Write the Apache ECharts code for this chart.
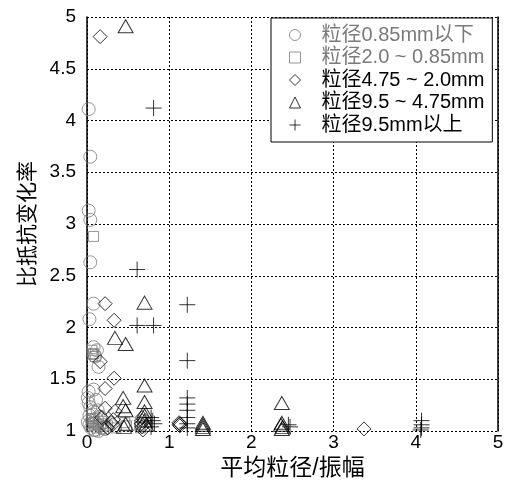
<!DOCTYPE html>
<html><head><meta charset="utf-8">
<script src="https://cdn.jsdelivr.net/npm/echarts@6/dist/echarts.min.js"></script>
<style>html,body{margin:0;padding:0;background:#fff}#c{width:508px;height:481px}</style>
</head><body><div id="c"></div>
<script>
const seriesNames = ['粒径0.85mm以下','粒径2.0 ~ 0.85mm','粒径4.75 ~ 2.0mm','粒径9.5 ~ 4.75mm','粒径9.5mm以上'];
const xTicks = [0,1,2,3,4,5];
const yTicks = [1,1.5,2,2.5,3,3.5,4,4.5,5];

const circles = [[0.02,4.11],[0.04,3.65],[0.02,3.13],[0.04,3.04],[0.04,2.63],[0.08,2.23],[0.03,2.08],
 [0.08,1.81],[0.12,1.78],[0.14,1.62],[0.10,1.72],[0.02,1.38],[0.08,1.40],[0.02,1.27],[0.04,1.23],
 [0.03,1.15],[0.07,1.16],[0.13,1.20],[0.06,1.10],[0.10,1.08],[0.15,1.05],[0.18,1.03],[0.05,1.03],
 [0.09,1.01],[0.12,1.12],[0.20,1.08],[0.03,1.06],[0.14,1.00],[0.01,1.32],[0.11,1.30],[0.16,1.14],
 [0.08,1.19],[0.22,1.02],[0.01,1.09]];
const squares = [[0.08,2.88],[0.06,1.78],[0.08,1.75],[0.10,1.72],[0.07,1.74],[0.07,1.12],[0.08,1.08],
 [0.10,1.05],[0.12,1.03],[0.14,1.06],[0.20,1.02],[0.25,1.05],[0.46,1.08],[0.48,1.05],[0.64,1.06],
 [0.65,1.03],[0.35,1.03],[0.09,1.00],[0.18,1.07]];
const diamonds = [[0.16,4.81],[0.22,2.23],[0.33,2.07],[0.16,1.67],[0.33,1.51],[0.22,1.41],[0.22,1.22],
 [0.34,1.19],[0.18,1.13],[0.32,1.11],[0.30,1.08],[0.31,1.06],[0.25,1.03],[0.67,1.13],[0.67,1.10],
 [0.66,1.07],[0.67,1.04],[0.68,1.01],[1.12,1.08],[1.13,1.07],[1.13,1.05],[1.12,1.06],[3.37,1.02]];
const triangles = [[0.47,4.91],[0.70,2.24],[0.34,1.90],[0.47,1.84],[0.70,1.44],[0.44,1.32],[0.70,1.28],
 [0.44,1.24],[0.47,1.20],[0.70,1.19],[0.70,1.15],[0.47,1.07],[0.45,1.04],[0.70,1.10],[0.72,1.06],
 [1.41,1.08],[1.41,1.06],[1.41,1.04],[1.41,1.02],[2.37,1.27],[2.37,1.08],[2.36,1.06],[2.38,1.04],[2.37,1.02]];
const pluses = [[0.81,4.12],[0.61,2.56],[1.22,2.22],[0.61,2.02],[0.81,2.02],[1.22,1.68],[1.22,1.32],
 [1.22,1.26],[1.22,1.20],[1.22,1.13],[1.22,1.07],[1.22,1.03],[0.78,1.13],[0.80,1.10],[0.82,1.07],
 [0.78,1.04],[2.45,1.06],[2.47,1.04],[4.07,1.10],[4.07,1.06],[4.07,1.03],[4.06,1.01]];

const GRAY = '#7a7a7a';
const FONT = '"Liberation Sans", "Noto Sans CJK SC", sans-serif';
const PLUS = 'path://M5,0L5,10M0,5L10,5';

function mk(name, data, symbol, size, color) {
  return {
    type: 'scatter', name: name, data: data, symbol: symbol, symbolSize: size, clip: false,
    itemStyle: { color: 'rgba(0,0,0,0)', borderColor: color, borderWidth: 1 },
    emphasis: { disabled: true }
  };
}

const chart = echarts.init(document.getElementById('c'), null, { renderer: 'canvas' });
chart.setOption({
  animation: false,
  grid: { left: 87, right: 10, top: 17, bottom: 50, containLabel: false, outerBoundsMode: 'none' },
  xAxis: {
    type: 'value', min: xTicks[0], max: xTicks[xTicks.length - 1], interval: 1,
    axisLine: { show: false }, axisTick: { show: false },
    axisLabel: { color: '#000', fontSize: 19, fontFamily: FONT, margin: 2 },
    splitLine: { show: true, lineStyle: { color: '#000', type: [2, 2], width: 1 } },
    name: '平均粒径/振幅', nameLocation: 'middle', nameGap: 25,
    nameTextStyle: { color: '#000', fontSize: 23, fontFamily: FONT }
  },
  yAxis: [{
    type: 'value', min: yTicks[0], max: yTicks[yTicks.length - 1], interval: 0.5,
    axisLine: { show: true, lineStyle: { color: '#000', width: 1.5 } }, axisTick: { show: false },
    axisLabel: { color: '#000', fontSize: 19, fontFamily: FONT, margin: 11 },
    splitLine: { show: true, lineStyle: { color: '#000', type: [2, 2], width: 1 } },
    name: '比抵抗变化率', nameLocation: 'middle', nameGap: 42,
    nameTextStyle: { color: '#000', fontSize: 21, fontFamily: FONT }
  }, {
    type: 'value', min: 1, max: 5, interval: 0.5, position: 'right',
    axisLine: { show: true, onZero: false, lineStyle: { color: '#000', width: 1.5 } },
    axisTick: { show: false }, axisLabel: { show: false }, splitLine: { show: false }
  }],
  legend: {
    orient: 'vertical', left: 271, top: 18,
    backgroundColor: '#fff', borderColor: '#000', borderWidth: 1,
    padding: [7, 8, 7, 18], itemGap: 2.5, itemWidth: 11, itemHeight: 11,
    selectedMode: false,
    itemStyle: { borderWidth: 1 },
    textStyle: { fontSize: 20, fontFamily: FONT, padding: [0, 0, 0, 16], lineHeight: 20 },
    data: [
      { name: seriesNames[0], textStyle: { color: GRAY } },
      { name: seriesNames[1], textStyle: { color: GRAY } },
      { name: seriesNames[2], textStyle: { color: '#000' } },
      { name: seriesNames[3], textStyle: { color: '#000' } },
      { name: seriesNames[4], textStyle: { color: '#000' } }
    ]
  },
  series: [
    mk(seriesNames[0], circles, 'circle', 13, GRAY),
    mk(seriesNames[1], squares, 'rect', 10, GRAY),
    mk(seriesNames[2], diamonds, 'diamond', 14, '#000'),
    mk(seriesNames[3], triangles, 'triangle', [15, 13], '#000'),
    mk(seriesNames[4], pluses, PLUS, 16, '#000')
  ]
});
</script></body></html>
